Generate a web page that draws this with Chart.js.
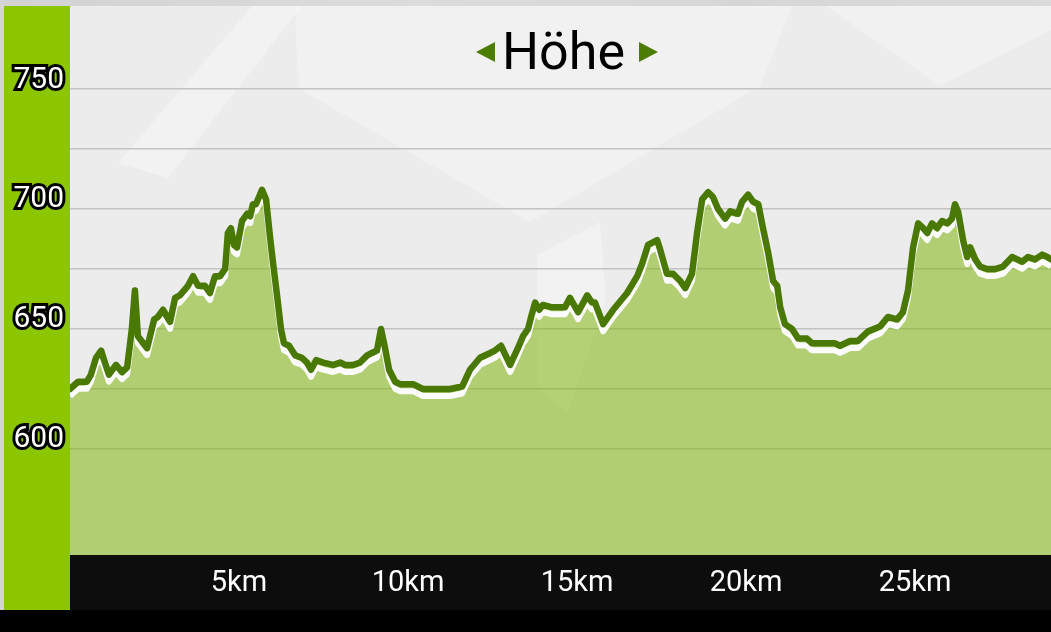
<!DOCTYPE html>
<html>
<head>
<meta charset="utf-8">
<script src="https://cdn.jsdelivr.net/npm/chart.js@4"></script>
<style>
  body { margin: 0; background: #000; }
  #wrap { position: relative; width: 1051px; height: 632px; background: #000; overflow: hidden; }
  #bg { position: absolute; left: 0; top: 0; width: 1051px; height: 610px; background: #ececec; }
  #topstrip { position: absolute; left: 0; top: 0; width: 1051px; height: 6px; background: linear-gradient(90deg, #d2d2d2, #dcdcdc 40%, #d6d6d6 70%, #dadada); }
  #leftstrip { position: absolute; left: 0; top: 0; width: 4px; height: 610px; background: #d4d4d4; }
  #shapes { position: absolute; left: 0; top: 0; }
  canvas { position: absolute; left: 0; top: 0; }
  #title { position: absolute; left: 0; top: 0; width: 1051px; font-family: Roboto, sans-serif; }
  #title .txt { position: absolute; left: 502px; top: 21px; font-size: 52px; line-height: 62px; color: #000; }
  .tri { position: absolute; width: 0; height: 0; border-top: 10px solid transparent; border-bottom: 10px solid transparent; }
  .tri.l { left: 476px; top: 42px; border-right: 19px solid #4d7c05; }
  .tri.r { left: 639px; top: 42px; border-left: 19px solid #4d7c05; }
</style>
</head>
<body>
<div id="wrap">
  <div id="bg"></div>
  <svg id="shapes" width="1051" height="610">
    <polygon points="118,163 168,178 302,6 252,6" fill="#fff" fill-opacity="0.3"/>
    <polygon points="295,6 298,88 530,222 760,86 792,6" fill="#fff" fill-opacity="0.28"/>
    <polygon points="826,6 940,86 1051,30 1051,6" fill="#fff" fill-opacity="0.25"/>
    <polygon points="537,255 600,222 606,300 568,412 537,388" fill="#fff" fill-opacity="0.3"/>
  </svg>
  <div id="topstrip"></div>
  <div id="leftstrip"></div>
  <canvas id="profileChart" width="1051" height="610"></canvas>
  <div id="title"><div class="tri l"></div><span class="txt">Höhe</span><div class="tri r"></div></div>
</div>
<script>
// Höhenprofil: Distanz (km) und Höhe (m)
const distKm = [
  0.00, 0.24, 0.50, 0.62, 0.77, 0.92, 1.01, 1.15, 1.36, 1.54, 1.69, 1.83, 1.92, 2.01, 2.28, 2.49,
  2.60, 2.75, 2.96, 3.11, 3.25, 3.49, 3.64, 3.79, 3.99, 4.14, 4.29, 4.44, 4.59, 4.67, 4.76, 4.85,
  4.94, 5.09, 5.24, 5.33, 5.41, 5.50, 5.68, 5.80, 5.92, 6.01, 6.09, 6.15, 6.24, 6.33, 6.48, 6.66,
  6.86, 7.01, 7.13, 7.28, 7.49, 7.78, 7.99, 8.14, 8.37, 8.58, 8.79, 8.93, 9.08, 9.20, 9.32, 9.44,
  9.62, 9.76, 9.85, 10.15, 10.44, 10.89, 11.24, 11.60, 11.83, 12.13, 12.43, 12.57, 12.75, 13.02,
  13.25, 13.40, 13.55, 13.64, 13.76, 13.88, 13.99, 14.26, 14.56, 14.64, 14.79, 15.03, 15.30, 15.44,
  15.53, 15.77, 16.07, 16.48, 16.78, 16.92, 17.10, 17.37, 17.46, 17.66, 17.84, 18.05, 18.20, 18.40,
  18.55, 18.70, 18.88, 19.02, 19.17, 19.38, 19.53, 19.76, 19.88, 20.06, 20.21, 20.36, 20.50, 20.65,
  20.80, 20.92, 21.01, 21.15, 21.36, 21.54, 21.80, 21.95, 22.13, 22.63, 22.78, 23.08, 23.31, 23.61,
  23.96, 24.20, 24.47, 24.64, 24.79, 24.94, 25.09, 25.24, 25.36, 25.50, 25.65, 25.80, 25.95, 26.09,
  26.18, 26.27, 26.42, 26.54, 26.63, 26.78, 26.92, 27.13, 27.37, 27.60, 27.87, 28.02, 28.17, 28.34,
  28.55, 28.76, 28.91, 29.02
];
const elevM = [
  625, 628, 628, 631, 638, 641, 637, 631, 635, 632, 634, 650, 666, 647, 642, 654,
  655, 658, 653, 663, 664, 668, 672, 668, 668, 665, 672, 672, 675, 690, 692, 685,
  684, 695, 698, 697, 702, 702, 708, 704, 688, 677, 668, 661, 650, 644, 643, 639,
  638, 636, 633, 637, 636, 635, 636, 635, 635, 636, 639, 640, 641, 650, 642, 633,
  628, 627, 627, 627, 625, 625, 625, 626, 633, 638, 640, 641, 643, 635,
  642, 647, 650, 655, 661, 658, 660, 659, 659, 659, 663, 657, 664, 661,
  661, 652, 658, 665, 672, 677, 685, 687, 683, 673, 673, 670, 667, 673,
  690, 704, 707, 705, 700, 696, 699, 698, 703, 706, 703, 702, 692, 682,
  670, 668, 659, 652, 650, 646, 646, 644, 644, 644, 643, 645, 645, 649,
  651, 655, 654, 657, 666, 684, 694, 692, 690, 694, 692, 695, 694, 696,
  702, 699, 687, 680, 684, 679, 676, 675, 675, 676, 680, 679, 678, 680,
  679, 681, 680, 679
];
const xTicks = [5, 10, 15, 20, 25];
const yTicks = [600, 625, 650, 675, 700, 725, 750];
const yLabelStep = 50;

const points = distKm.map((d, i) => ({ x: d, y: elevM[i] }));

// green axis bar on the left and black band under the plot
const panels = {
  id: 'panels',
  beforeDraw(chart) {
    const ctx = chart.ctx;
    const a = chart.chartArea;
    const y = chart.scales.y;
    ctx.save();
    ctx.fillStyle = '#8cc600';
    ctx.fillRect(y.left, a.top, y.right - y.left, chart.height - a.top);
    ctx.fillStyle = '#0d0d0d';
    ctx.fillRect(a.left, a.bottom, a.right - a.left, chart.height - a.bottom);
    ctx.restore();
  }
};

// fill area sits a little below the line, like a shadow
const shadowFill = {
  id: 'shadowFill',
  beforeDatasetDraw(chart, args) {
    if (args.index !== 1) return;
    const a = chart.chartArea;
    const ctx = chart.ctx;
    ctx.save();
    ctx.beginPath();
    ctx.rect(a.left, a.top, a.right - a.left, a.bottom - a.top);
    ctx.clip();
    ctx.translate(0, 7);
  },
  afterDatasetDraw(chart, args) {
    if (args.index !== 1) return;
    chart.ctx.restore();
  }
};

new Chart(document.getElementById('profileChart'), {
  type: 'line',
  data: {
    datasets: [
      {
        data: points,
        borderColor: '#4a7804',
        borderWidth: 6.5,
        borderJoinStyle: 'round',
        borderCapStyle: 'round',
        pointRadius: 0,
        fill: false
      },
      {
        data: points,
        borderColor: '#fbfbfb',
        borderWidth: 6,
        borderJoinStyle: 'round',
        backgroundColor: 'rgba(130,183,14,0.55)',
        pointRadius: 0,
        fill: 'start',
        clip: false
      }
    ]
  },
  options: {
    responsive: false,
    devicePixelRatio: 1,
    animation: false,
    layout: { padding: { left: 4, top: 6, right: 0, bottom: 0 } },
    plugins: {
      legend: { display: false },
      tooltip: { enabled: false }
    },
    scales: {
      x: {
        type: 'linear',
        min: 0,
        max: 29.02,
        afterBuildTicks: s => { s.ticks = xTicks.map(v => ({ value: v })); },
        afterFit: s => { s.height = 55; s.paddingLeft = 0; s.paddingRight = 0; },
        grid: { display: false },
        border: { display: false },
        ticks: {
          color: '#fff',
          font: { family: 'Roboto', size: 29 },
          padding: 3,
          maxRotation: 0,
          autoSkip: false,
          callback: v => v + 'km'
        }
      },
      y: {
        min: 555.8,
        max: 784.6,
        afterBuildTicks: s => { s.ticks = yTicks.map(v => ({ value: v })); },
        afterFit: s => { s.width = 66; s.paddingTop = 0; s.paddingBottom = 0; },
        grid: { color: '#c2c2c2', lineWidth: 1.5, drawTicks: false },
        border: { display: false },
        ticks: {
          color: '#fff',
          textStrokeColor: '#000',
          textStrokeWidth: 6,
          font: { family: 'Roboto', size: 30 },
          padding: 6,
          labelOffset: -9,
          callback: v => (v % yLabelStep === 0 ? String(v) : '')
        }
      }
    }
  },
  plugins: [panels, shadowFill]
});
</script>
</body>
</html>
